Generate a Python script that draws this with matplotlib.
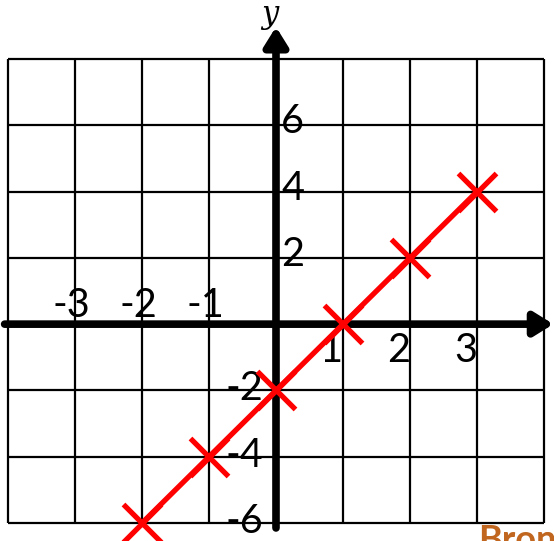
import matplotlib
matplotlib.use('Agg')
import matplotlib.pyplot as plt

# data
x_vals = [-2, -1, 0, 1, 2, 3]
y_vals = [-6, -4, -2, 0, 2, 4]

grid_x = [-4, -3, -2, -1, 0, 1, 2, 3, 4]
grid_y = [-6, -4, -2, 0, 2, 4, 6, 8]

x_tick_labels = ['-3', '-2', '-1', '1', '2', '3']
x_tick_pos = [-3, -2, -1, 1, 2, 3]
y_tick_labels = ['6', '4', '2', '-2', '-4', '-6']
y_tick_pos = [6, 4, 2, -2, -4, -6]

fig = plt.figure(figsize=(5.54, 5.41), dpi=100)
ax = fig.add_axes([0, 0, 1, 1])
ax.set_xlim(-4.119, 4.149)
ax.set_ylim(-6.543, 9.78)
ax.axis('off')

# grid
ax.vlines(grid_x, grid_y[0], grid_y[-1], colors='black', lw=1.6, zorder=1)
ax.hlines(grid_y, grid_x[0], grid_x[-1], colors='black', lw=1.6, zorder=1)

# axes with arrows
arrow_kw = dict(arrowstyle='-|>,head_length=0.45,head_width=0.28', lw=5.5,
                color='black', shrinkA=0, shrinkB=0, mutation_scale=25)
ax.annotate('', xy=(4.14, 0), xytext=(-4.05, 0), arrowprops=arrow_kw,
            annotation_clip=False, zorder=3)
ax.annotate('', xy=(0, 8.97), xytext=(0, -6.15), arrowprops=arrow_kw,
            annotation_clip=False, zorder=3)

ax.text(-0.09, 9.35, 'y', fontsize=22, family='DejaVu Serif', style='italic',
        ha='center', va='center', zorder=4)

font = 'Lato'
fs = 28.5
for lab, pos in zip(x_tick_labels, x_tick_pos):
    if pos < 0:
        ax.text(pos - 0.05, 0.55, lab, fontsize=fs, family=font, ha='center', va='center', zorder=4)
    else:
        ax.text(pos - 0.17, -0.8, lab, fontsize=fs, family=font, ha='center', va='center', zorder=4)
for lab, pos in zip(y_tick_labels, y_tick_pos):
    if pos > 0:
        ax.text(0.08, pos + 0.1, lab, fontsize=fs, family=font, ha='left', va='center', zorder=4)
    else:
        ax.text(-0.19, pos + 0.05, lab, fontsize=fs, family=font, ha='right', va='center', zorder=4)

# red line with crosses
ax.plot(x_vals, y_vals, color='red', lw=3.8, marker='x', markersize=28,
        markeredgewidth=3.8, zorder=5, clip_on=False)

# caption cut off by the bottom edge, as in the source
fig.text(478 / 554, 1 - 524 / 541, 'Bronze', fontsize=26, fontweight='bold',
         color='#C0661E', family='Lato', ha='left', va='top')

fig.savefig('out.png', dpi=100)
